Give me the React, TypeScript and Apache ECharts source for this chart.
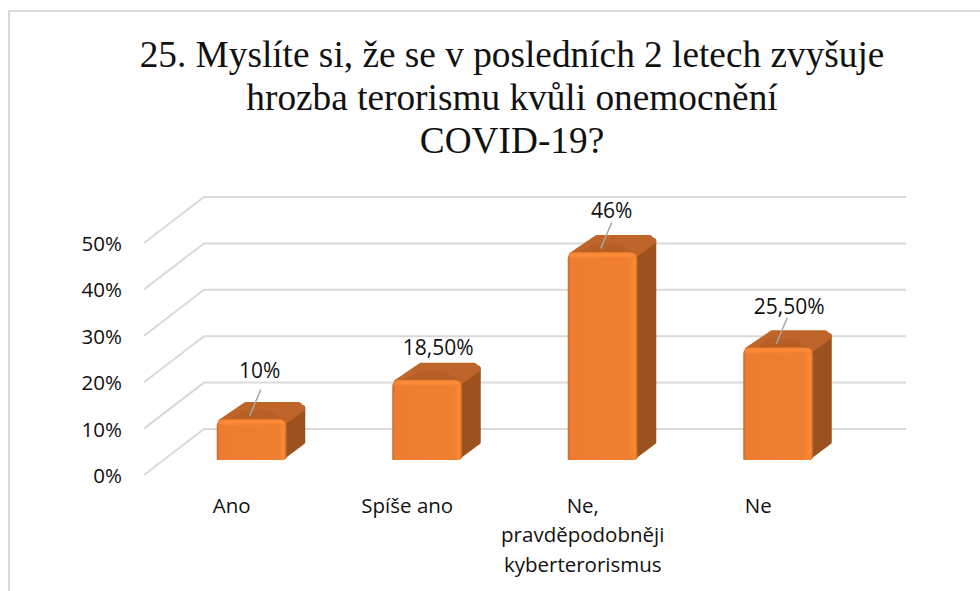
import React, { useEffect, useRef } from "react";
import * as echarts from "echarts";

const titleText = "25. Myslíte si, že se v posledních 2 letech zvyšuje\nhrozba terorismu kvůli onemocnění\nCOVID-19?";
const categories = ["Ano", "Spíše ano", "Ne,\npravděpodobněji\nkyberterorismus", "Ne"];
const values = [10, 18.5, 46, 25.5];
const valueLabels = ["10%", "18,50%", "46%", "25,50%"];
const ticks = [0, 10, 20, 30, 40, 50];
const showLeader = [true, false, true, true];
const labelLift = [50, 33, 43, 42];
const labelShift = [8, 11, 9, 11];

const SANS = "'Open Sans', sans-serif";
const DEPTH_X = 60;
const DEPTH_Y = 46;
const BAR_W = 70;
const GRID_LEFT = 144;
const GRID_W = 702;

function gridItem(params: any, api: any) {
  const tick = api.value(0);
  const p = api.coord([0, tick]);
  const y = p[1];
  const style = { stroke: "#D9D9D9", lineWidth: 2, fill: "none" };
  return {
    type: "polyline",
    shape: {
      points: [
        [GRID_LEFT, y],
        [GRID_LEFT + DEPTH_X, y - DEPTH_Y],
        [GRID_LEFT + GRID_W + DEPTH_X, y - DEPTH_Y],
      ],
    },
    style,
    silent: true,
  };
}

function barItem(params: any, api: any) {
  const i = params.dataIndex;
  const cat = api.value(0);
  const v = api.value(1);
  const base = api.coord([cat, 0]);
  const top = api.coord([cat, v]);
  const x0 = base[0] - BAR_W / 2 + 20;
  const x1 = x0 + BAR_W;
  const yb = base[1] - 15;
  const yt = top[1] - 9;
  const dx = 19;
  const dy = 15;
  const edge = (a: string, b: string) => ({
    type: "linear", x: 0, y: 0, x2: 1, y2: 0,
    colorStops: [
      { offset: 0, color: a }, { offset: 0.04, color: "#EC7C30" },
      { offset: 0.88, color: "#F07F30" }, { offset: 0.96, color: "#FF8A36" }, { offset: 1, color: b },
    ],
  });
  const children: any[] = [
    {
      type: "polygon",
      shape: { points: [[x1 - 4, yt + 4], [x1 + dx - 3, yt - dy + 3], [x1 + dx - 3, yb - dy - 3], [x1 - 4, yb - 3]] },
      style: { fill: "#9B521E", stroke: "#9B521E", lineWidth: 5, lineJoin: "round" },
    },
    {
      type: "polygon",
      shape: { points: [[x0 + 4, yt + 2], [x0 + dx + 10, yt - 15], [x1 + dx - 7, yt - 15], [x1 + dx - 3, yt - 11], [x1 - 2, yt + 2]] },
      style: { fill: "#C0652A", stroke: "#C0652A", lineWidth: 5, lineJoin: "round" },
    },
    {
      type: "polygon",
      shape: { points: [[x0 + 12, yt], [x0 + 27, yt - 9], [x1 - 17, yt - 9], [x1 - 4, yt]] },
      style: { fill: "#B85F25" },
    },
    {
      type: "rect",
      shape: { x: x0, y: yt, width: BAR_W, height: yb - yt, r: [6, 7, 4, 1] },
      style: { fill: edge("#C66A2C", "#B8652A") },
    },
    {
      type: "rect",
      shape: { x: x0 + 2, y: yt, width: BAR_W - 5, height: 6, r: [4, 5, 0, 0] },
      style: { fill: { type: "linear", x: 0, y: 0, x2: 0, y2: 1, colorStops: [
        { offset: 0, color: "#F48434" }, { offset: 0.5, color: "#FF8B37" }, { offset: 1, color: "#EE7D30" },
      ] } },
    },
    {
      type: "text",
      style: {
        x: x0 + BAR_W / 2 + labelShift[i], y: yt - labelLift[i],
        text: valueLabels[i], align: "center", verticalAlign: "middle",
        font: `21px ${SANS}`, fill: "#111111",
      },
    },
  ];
  if (showLeader[i]) {
    const tx = x0 + BAR_W / 2 - 2;
    children.push({
      type: "line",
      shape: { x1: tx, y1: yt - 4, x2: tx + 11, y2: yt - 30 },
      style: { stroke: "#A6A6A6", lineWidth: 1.5 },
    });
  }
  return { type: "group", children };
}

export default function App() {
  const ref = useRef<HTMLDivElement>(null);
  useEffect(() => {
    document.body.style.margin = "0";
    const chart = echarts.init(ref.current!, null, { renderer: "svg" });
    chart.setOption({
      animation: false,
      backgroundColor: "#FFFFFF",
      title: {
        text: titleText,
        left: 507,
        top: 28,
        textAlign: "center",
        textStyle: {
          fontFamily: "'Liberation Serif', serif",
          fontSize: 37.3,
          fontWeight: "normal",
          lineHeight: 43,
          color: "#111111",
        },
      },
      grid: { left: GRID_LEFT, width: GRID_W, top: 243, height: 232 },
      xAxis: {
        type: "category",
        data: categories,
        axisLine: { show: false },
        axisTick: { show: false },
        axisLabel: { interval: 0, margin: 15, fontFamily: SANS, fontSize: 20.5, lineHeight: 29.5, color: "#111111" },
      },
      yAxis: {
        type: "value",
        min: 0,
        max: 50,
        interval: 10,
        splitLine: { show: false },
        axisLine: { show: false },
        axisTick: { show: false },
        axisLabel: { margin: 22, formatter: "{value}%", fontFamily: SANS, fontSize: 20.5, padding: [5, 0, 0, 0], color: "#111111" },
      },
      graphic: [
        {
          type: "polyline",
          shape: { points: [[9, 591], [9, 11], [980, 11]] },
          style: { stroke: "#D9D9D9", lineWidth: 2, fill: "none" },
          silent: true,
        },
      ],
      series: [
        {
          type: "custom",
          coordinateSystem: "cartesian2d",
          renderItem: gridItem,
          encode: { y: 0 },
          data: ticks.map((t) => [t]),
          silent: true,
          z: 1,
        },
        {
          type: "custom",
          coordinateSystem: "cartesian2d",
          renderItem: barItem,
          encode: { x: 0, y: 1 },
          data: values.map((v, i) => [i, v]),
          silent: true,
          z: 2,
        },
      ],
    });
    return () => chart.dispose();
  }, []);
  return <div ref={ref} style={{ position: "fixed", left: 0, top: 0, width: 980, height: 591 }} />;
}
